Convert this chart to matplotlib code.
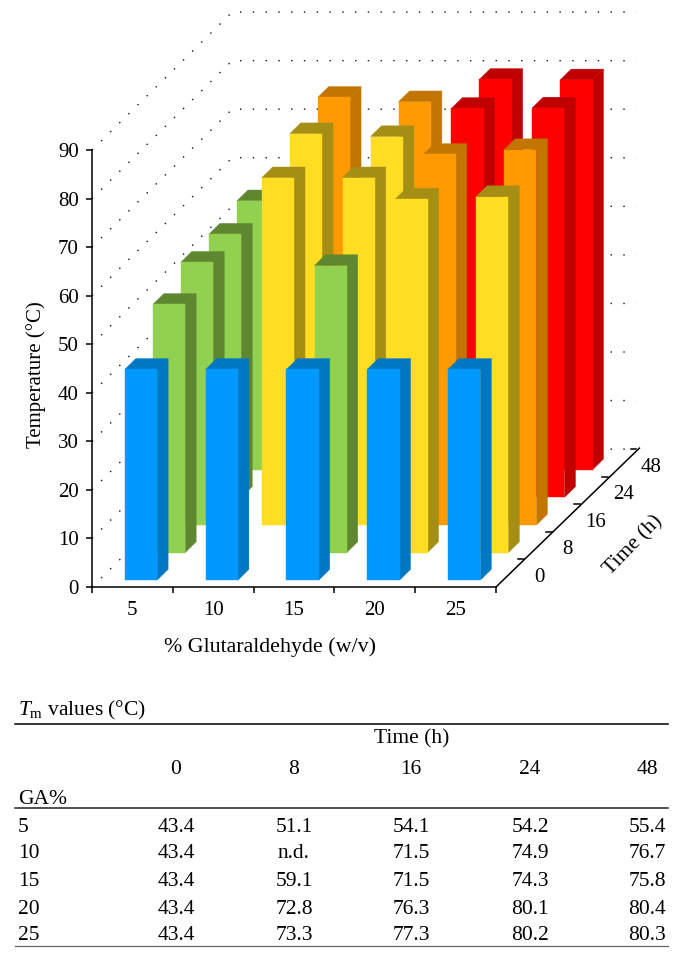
import matplotlib.pyplot as plt
from matplotlib.patches import Polygon

plt.rcParams["font.family"] = ["Liberation Serif", "DejaVu Serif"]
plt.rcParams["mathtext.fontset"] = "custom"
plt.rcParams["mathtext.rm"] = "Liberation Serif"
plt.rcParams["mathtext.it"] = "Liberation Serif:italic"

ga_labels = ["5", "10", "15", "20", "25"]
time_labels = ["0", "8", "16", "24", "48"]
temp_ticks = [0, 10, 20, 30, 40, 50, 60, 70, 80, 90]

tm_5 = [43.4, 51.1, 54.1, 54.2, 55.4]
tm_10 = [43.4, None, 71.5, 74.9, 76.7]
tm_15 = [43.4, 59.1, 71.5, 74.3, 75.8]
tm_20 = [43.4, 72.8, 76.3, 80.1, 80.4]
tm_25 = [43.4, 73.3, 77.3, 80.2, 80.3]
tm_rows = [tm_5, tm_10, tm_15, tm_20, tm_25]

# oblique projection: one time step moves this far in x (slots) and y (deg C)
DX = 0.347
DY = 5.68
BAR_W = 0.40
BAR_D = 0.39
BAR_START = 0.25
BAR_SHIFT = 0.02


def proj(x, depth, z):
    return x + depth * DX, z + depth * DY


def bar_colors(v):
    if v < 50:
        return "#0099FF", "#0077C2"
    if v < 70:
        return "#92D050", "#5E8730"
    if v < 75:
        return "#FFDD22", "#A58E14"
    if v < 80:
        return "#FF9900", "#C27500"
    return "#FF0000", "#C00000"


def draw_bar(ax, i, t, v):
    front, dark = bar_colors(v)
    x0 = i + 0.5 - BAR_W / 2 + BAR_SHIFT
    x1 = x0 + BAR_W
    d0 = t + BAR_START
    d1 = d0 + BAR_D
    faces = [
        ([(x1, d0, 0), (x1, d1, 0), (x1, d1, v), (x1, d0, v)], dark),
        ([(x0, d0, v), (x1, d0, v), (x1, d1, v), (x0, d1, v)], dark),
        ([(x0, d0, 0), (x1, d0, 0), (x1, d0, v), (x0, d0, v)], front),
    ]
    for pts, col in faces:
        xy = [proj(*p) for p in pts]
        ax.add_patch(Polygon(xy, closed=True, facecolor=col, edgecolor=col,
                             linewidth=0.3, clip_on=False, zorder=3))


W, H = 681, 961
fig = plt.figure(figsize=(W / 100, H / 100), dpi=100)

# chart axes, placed so the front plane covers the pixel box of the reference
ax = fig.add_axes([92 / W, 1 - 587 / H, 404 / W, 437 / H])
ax.set_xlim(0, 5)
ax.set_ylim(0, 90)
ax.patch.set_alpha(0)

n_t = len(time_labels)
dots = (0, (1, 8.2))
for z in temp_ticks:
    x_back, y_back = proj(0, n_t, z)
    x_end, _ = proj(5, n_t, z)
    ax.plot([0, x_back, x_end], [z, y_back, y_back], color="#111111", lw=1.0,
            ls=dots, clip_on=False, zorder=1)

for t in range(n_t - 1, -1, -1):
    for i in range(len(ga_labels)):
        v = tm_rows[i][t]
        if v is not None:
            draw_bar(ax, i, t, v)

for side in ["top", "right"]:
    ax.spines[side].set_visible(False)
ax.spines["left"].set_linewidth(1.1)
ax.spines["bottom"].set_linewidth(1.1)
ax.set_xticks(range(6))
ax.set_xticklabels([])
ax.set_xticks([i + 0.5 for i in range(5)], minor=True)
ax.set_xticklabels(ga_labels, minor=True)
ax.tick_params(axis="x", which="major", length=4.5, width=1.1)
ax.tick_params(axis="x", which="minor", length=0, labelsize=15, pad=10)
ax.set_yticks(temp_ticks)
ax.tick_params(axis="y", length=4.5, width=1.1, labelsize=15, pad=5)
ax.set_xlabel("% Glutaraldehyde (w/v)", fontsize=15.8)
ax.xaxis.set_label_coords(0.44, -0.114)
ax.set_ylabel("Temperature (°C)", fontsize=15)
ax.yaxis.set_label_coords(-0.113, 0.485)

# depth axis on the floor
x_back, y_back = proj(5, n_t, 0)
ax.plot([5, x_back + 0.04], [0, y_back + 0.2], color="black", lw=1.1,
        clip_on=False, zorder=4)
for t, lab in enumerate(time_labels):
    xt, yt = proj(5, t + 1, 0)
    ax.plot([xt - 0.07, xt], [yt, yt], color="black", lw=1.1,
            clip_on=False, zorder=4)
    lx, ly = proj(5.38, t + 0.45, -0.6)
    ax.text(lx, ly, lab, fontsize=15, ha="center", va="center", clip_on=False)
lx, ly = proj(5.9, 2.3, -4.6)
ax.text(lx, ly, "Time (h)", fontsize=15.5, rotation=46, ha="center", va="center",
        rotation_mode="anchor")

# table below the chart, in pixel coordinates
tb = fig.add_axes([0, 0, 1, 1])
tb.set_xlim(0, W)
tb.set_ylim(H, 0)
tb.axis("off")
tb.patch.set_alpha(0)

col_x = [176, 294, 411, 530, 647]
row_y = [828, 854, 882, 909, 936]
fs = 15.5
tb.plot([15, 668], [724, 724], color="black", lw=1.1)
tb.plot([15, 668], [808, 808], color="#222222", lw=1.1)
tb.plot([15, 668], [946, 946], color="#666666", lw=0.9)
tb.text(18, 710, r"$\mathit{T}_{\mathrm{m}}$ values (°C)", fontsize=fs, va="center")
tb.text(412, 739, "Time (h)", fontsize=fs, ha="center", va="center")
tb.text(18, 800, "GA%", fontsize=fs, va="center")
for cx, lab in zip(col_x, time_labels):
    tb.text(cx, 770, lab, fontsize=fs, ha="center", va="center")
for ry, ga, row in zip(row_y, ga_labels, tm_rows):
    tb.text(18, ry, ga, fontsize=fs, va="center")
    for cx, v in zip(col_x, row):
        tb.text(cx, ry, "n.d." if v is None else f"{v:.1f}", fontsize=fs,
                ha="center", va="center")

fig.savefig("out.png", dpi=100)
